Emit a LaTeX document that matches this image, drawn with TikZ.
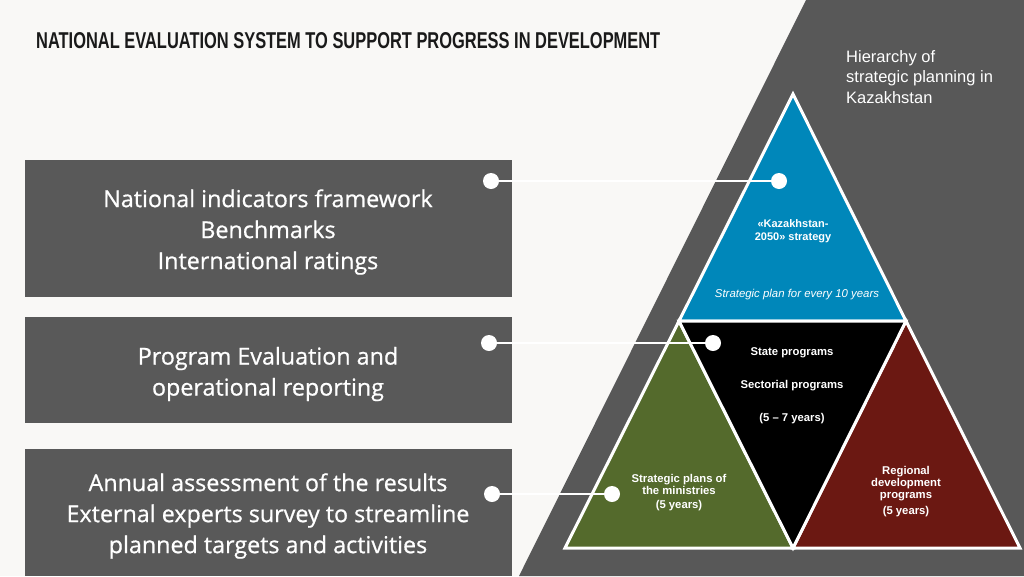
\documentclass[tikz,border=0pt]{standalone}
\usepackage{fontspec}
\setmainfont{Liberation Sans}
\newfontfamily\boxfont[FakeBold=0.7]{Open Sans}
\usepackage{graphicx}
\definecolor{bgc}{HTML}{F9F8F6}
\definecolor{darkg}{HTML}{585858}
\definecolor{boxg}{HTML}{595959}
\definecolor{tblue}{HTML}{0087BA}
\definecolor{tgreen}{HTML}{546A2C}
\definecolor{tred}{HTML}{6B1812}
\definecolor{titlec}{HTML}{1A1A1A}
\begin{document}
\begin{tikzpicture}[x=1pt,y=-1pt,
  boxtext/.style={text=white,align=center,font=\boxfont\fontsize{23.3}{31}\selectfont},
  tritext/.style={text=white,align=center,font=\bfseries\fontsize{11.3}{12}\selectfont,inner sep=0pt},
  dotnode/.style={circle,fill=white,minimum size=16pt,inner sep=0pt},
  conn/.style={white,line width=2pt},
  triedge/.style={draw=white,line width=3pt,line join=miter}]
\useasboundingbox (0,0) rectangle (1024,576);
\fill[bgc] (0,0) rectangle (1024,576);
\fill[darkg] (806,0) -- (1024,0) -- (1024,576) -- (519,576) -- cycle;
% title
\node[anchor=west,inner sep=0pt,text=titlec] (title) at (36,41)
  {\resizebox{624pt}{16pt}{\bfseries NATIONAL EVALUATION SYSTEM TO SUPPORT PROGRESS IN DEVELOPMENT}};
% header right
\node[anchor=north west,inner sep=0pt,text=white,align=left,font=\fontsize{16.5}{20.5}\selectfont] (hier) at (846,50)
  {Hierarchy of\\strategic planning in\\Kazakhstan};
% left boxes
\fill[boxg] (25,160) rectangle (512,297);
\fill[boxg] (25,317) rectangle (512,423);
\fill[boxg] (25,449) rectangle (512,576);
\node[boxtext] (b1) at (268,232) {National indicators framework\\Benchmarks\\International ratings};
\node[boxtext] (b2) at (268,374) {Program Evaluation and\\operational reporting};
\node[boxtext] (b3) at (268,516) {Annual assessment of the results\\External experts survey to streamline\\planned targets and activities};
% triangles
\filldraw[fill=tblue,triedge] (793,94) -- (679,321) -- (906,321) -- cycle;
\filldraw[fill=tgreen,triedge] (679,321) -- (565,548) -- (793,548) -- cycle;
\filldraw[fill=tred,triedge] (906,321) -- (793,548) -- (1020,548) -- cycle;
\filldraw[fill=black,triedge] (679,321) -- (906,321) -- (793,548) -- cycle;
% triangle texts
\node[tritext,font=\bfseries\fontsize{11}{13}\selectfont] (k1) at (793,231) {«Kazakhstan-\\2050» strategy};
\node[tritext,font=\itshape\fontsize{11.4}{13}\selectfont] (k2) at (797,295) {Strategic plan for every 10 years};
\node[tritext] (s1) at (792,353) {State programs};
\node[tritext] (s2) at (792,386) {Sectorial programs};
\node[tritext] (s3) at (792,419) {(5 – 7 years)};
\node[tritext] (g1) at (679,484) {Strategic plans of\\the ministries};
\node[tritext] (g2) at (679,506) {(5 years)};
\node[tritext] (r1) at (906,484) {Regional\\development\\programs};
\node[tritext] (r2) at (906,512) {(5 years)};
% connectors
\node[dotnode] (a1) at (491,181) {};
\node[dotnode] (c1) at (779,181) {};
\node[dotnode] (a2) at (489,343) {};
\node[dotnode] (c2) at (713,343) {};
\node[dotnode] (a3) at (492,494) {};
\node[dotnode] (c3) at (612,494) {};
\draw[conn] (a1) -- (c1);
\draw[conn] (a2) -- (c2);
\draw[conn] (a3) -- (c3);
\end{tikzpicture}
\end{document}
